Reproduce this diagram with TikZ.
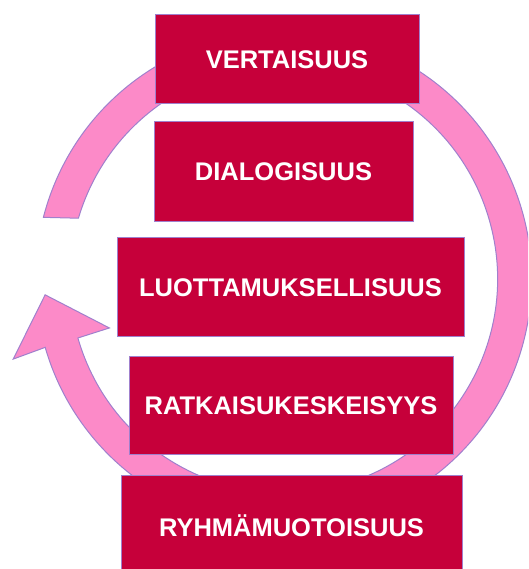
\documentclass[tikz,border=0pt]{standalone}
\usepackage{fontspec}
\setmainfont{Liberation Sans}
\definecolor{boxred}{RGB}{198,0,58}
\definecolor{ringpink}{RGB}{252,138,200}
\definecolor{edgelav}{RGB}{160,128,205}
\tikzset{
  stepbox/.style={draw=edgelav, line width=1pt, fill=boxred, text=white,
    font=\fontsize{25.5}{30}\selectfont\bfseries, inner sep=0pt, anchor=center},
  ringstyle/.style={draw=edgelav, line width=1pt, fill=ringpink}
}
\begin{document}
\begin{tikzpicture}[x=1pt,y=1pt]
\clip (0,0) rectangle (528,569);
\fill[white] (0,0) rectangle (528,569);
\begin{scope}[shift={(283.6,290)}]
\draw[ringstyle] (165.6:248) arc[start angle=165.6, end angle=-164, radius=248]
  -- (-163.5:282) -- (-176.2:239) -- (-164.3:181) -- (-164:214)
  arc[start angle=-164, end angle=163.5, radius=214] -- cycle;
\end{scope}
\node[stepbox, minimum width=264pt, minimum height=89pt] (v) at (287,509.5) {VERTAISUUS};
\node[stepbox, minimum width=259pt, minimum height=100pt] (d) at (283.5,397) {DIALOGISUUS};
\node[stepbox, minimum width=347pt, minimum height=99pt] (l) at (290.5,281.5) {LUOTTAMUKSELLISUUS};
\node[stepbox, minimum width=324pt, minimum height=98pt] (r) at (291,163) {RATKAISUKESKEISYYS};
\node[stepbox, minimum width=341pt, minimum height=100pt] (y) at (291.5,43) {RYHMÄMUOTOISUUS};
\end{tikzpicture}
\end{document}
